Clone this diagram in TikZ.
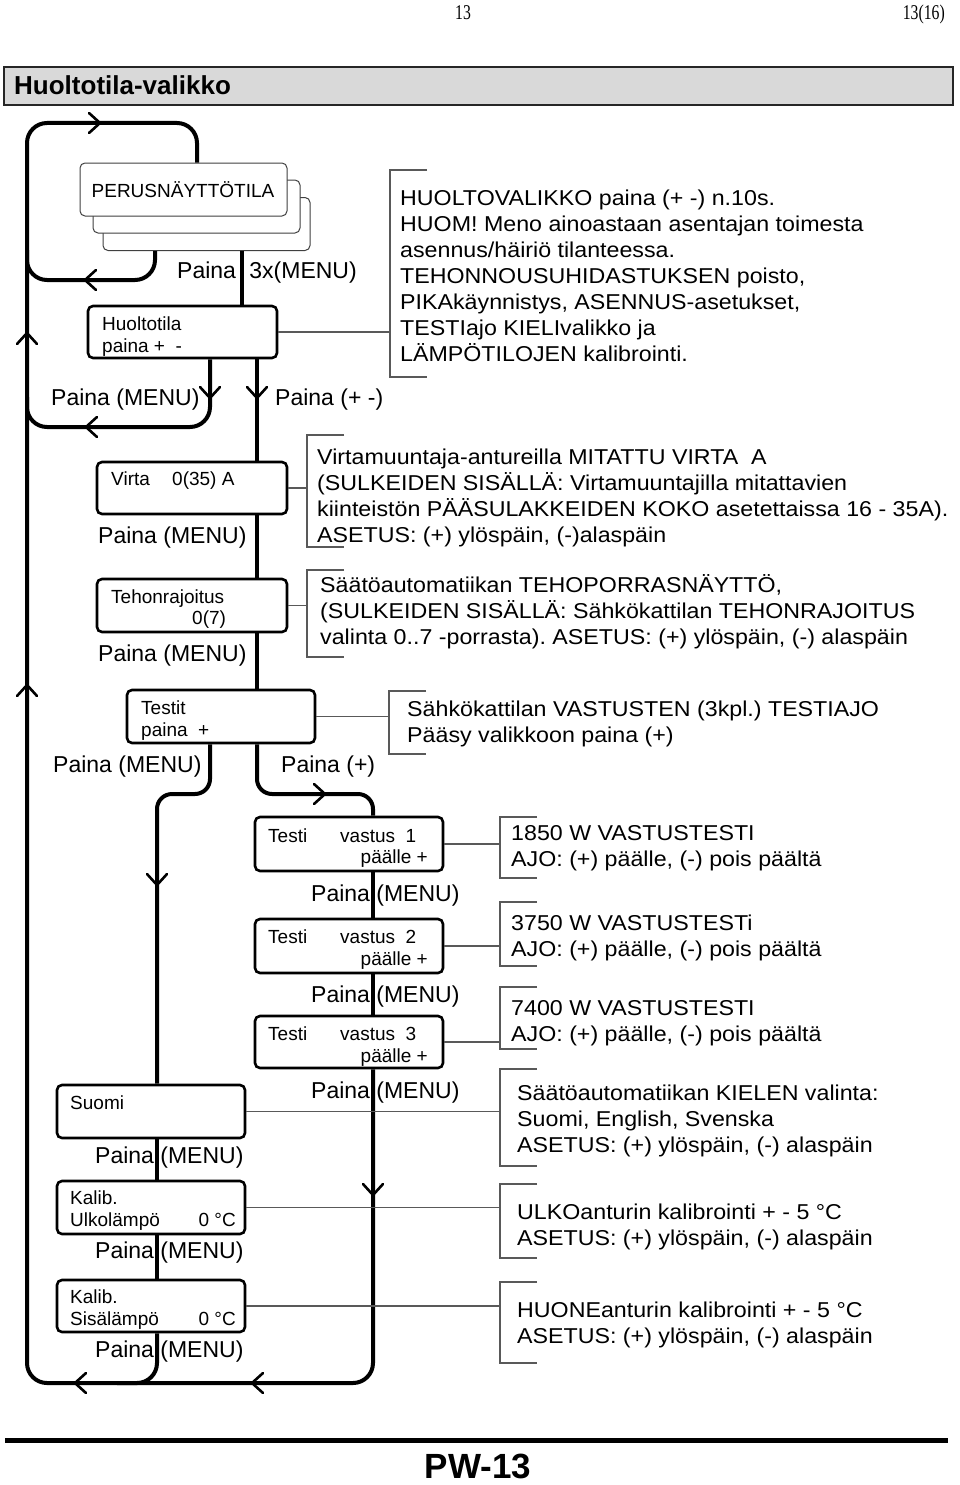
\documentclass[tikz,border=0pt]{standalone}
\usepackage{fontspec}
\usepackage{graphicx}
\setmainfont{Liberation Sans}
\newfontfamily\descfont{Liberation Sans}[FakeStretch=1.08]
\newfontfamily\hdrfont{Liberation Serif}[FakeStretch=0.75]
\frenchspacing
\usetikzlibrary{calc}
\tikzset{
  flow/.style={line width=4pt, rounded corners=20pt},
  box/.style={draw, line width=2.6pt, rounded corners=5pt, fill=white, inner sep=0pt},
  pbox/.style={draw=black!75, line width=1pt, rounded corners=5pt, fill=white, inner sep=0pt, minimum width=207, minimum height=53},
  brk/.style={draw=black!65, line width=1.2pt},
  conn/.style={draw=black!65, line width=1.2pt},
  lbl/.style={font=\fontsize{23}{27}\selectfont, inner sep=0pt, anchor=base west},
  btx/.style={font=\fontsize{19}{23}\selectfont, inner sep=0pt, anchor=base west},
  dsc/.style={font=\descfont\fontsize{21.5}{26}\selectfont, inner sep=0pt, anchor=base west},
  hdr/.style={font=\hdrfont\fontsize{21}{25}\selectfont, inner sep=0pt},
  chev/.pic={\draw[line width=2.6pt, line cap=round] (-11,-10) -- (0,0) -- (-11,10);}
}
\newcommand\mkbracket[4]{%
  \coordinate (#1t) at (#2,#3);
  \coordinate (#1b) at (#2,#4);
  \draw[brk] (#1t) ++(37,0) -- (#1t) -- (#1b) -- ++(37,0);}
\newcommand\dlines[4]{%
  \foreach \txt [count=\i from 0] in {#4}
    \node[dsc, name=#1\i] at (#2, #3+26*\i) {\txt};}
\begin{document}
\begin{tikzpicture}[x=1pt,y=-1pt]
\useasboundingbox (0,0) rectangle (960,1485);

% header
\node[hdr, anchor=base] (pg) at (463,20) {13};
\node[hdr, anchor=base east] (pgs) at (945,20) {13(16)};
\node[draw=black!85, line width=2pt, fill=black!15, minimum width=949, minimum height=38, inner sep=0pt, anchor=north west] (bar) at (3,66) {};
\node[anchor=base west, font=\bfseries\fontsize{26}{30}\selectfont, inner sep=0pt] (ttl) at (14,95) {Huoltotila-valikko};

% named coordinates
\coordinate (X27) at (27,0);
\coordinate (X155) at (155,0);
\coordinate (X157) at (157,0);
\coordinate (X197) at (197,0);
\coordinate (X210) at (210,0);
\coordinate (X242) at (242,0);
\coordinate (X257) at (257,0);
\coordinate (X373) at (373,0);
\coordinate (Ytop) at (0,123);
\coordinate (Yl1) at (0,280);
\coordinate (Yl2) at (0,427);
\coordinate (Ybr) at (0,794);
\coordinate (Ybot) at (0,1383);

% boxes
\node[pbox] (p3) at (206.5,224) {};
\node[pbox] (p2) at (196.5,206.5) {};
\node[pbox] (p1) at (183.5,189.5) {};
\node[box, minimum width=189, minimum height=52] (hu) at (182.5,332) {};
\node[box, minimum width=190, minimum height=52] (vi) at (192,488) {};
\node[box, minimum width=190, minimum height=53] (te) at (192,605.5) {};
\node[box, minimum width=188, minimum height=53] (ts) at (221,716.5) {};
\node[box, minimum width=188, minimum height=54] (t1) at (349,844) {};
\node[box, minimum width=188, minimum height=54] (t2) at (349,946) {};
\node[box, minimum width=188, minimum height=52] (t3) at (349,1042) {};
\node[box, minimum width=188, minimum height=53] (su) at (151,1111.5) {};
\node[box, minimum width=188, minimum height=53] (ul) at (151,1207.5) {};
\node[box, minimum width=188, minimum height=52] (si) at (151,1306) {};

% flow lines
\draw[flow] (p1.north -| X197) -- (X197 |- Ytop) -- (X27 |- Ytop) -- (X27 |- Ybot) -- (X373 |- Ybot) -- (t3.south -| X373);
\draw[flow] (p3.south -| X155) -- (X155 |- Yl1) -- (X27 |- Yl1) -- ++(0,-30);
\draw[flow] (hu.south -| X210) -- (X210 |- Yl2) -- (X27 |- Yl2) -- ++(0,-30);
\draw[flow] (si.south -| X157) -- (X157 |- Ybot) -- ++(-40,0);
\draw[flow, rounded corners=15pt] (ts.south -| X210) -- (X210 |- Ybr) -- (X157 |- Ybr) -- (su.north -| X157);
\draw[flow, rounded corners=15pt] (ts.south -| X257) -- (X257 |- Ybr) -- (X373 |- Ybr) -- (t1.north -| X373);
\draw[flow] (p3.south -| X242) -- (hu.north -| X242);
\draw[flow] (hu.south -| X257) -- (vi.north -| X257);
\draw[flow] (vi.south -| X257) -- (te.north -| X257);
\draw[flow] (te.south -| X257) -- (ts.north -| X257);
\draw[flow] (t1.south -| X373) -- (t2.north -| X373);
\draw[flow] (t2.south -| X373) -- (t3.north -| X373);
\draw[flow] (su.south -| X157) -- (ul.north -| X157);
\draw[flow] (ul.south -| X157) -- (si.north -| X157);

% chevrons
\path (100,123) pic {chev};
\path (85,280) pic[rotate=180] {chev};
\path (27,333) pic[rotate=90] {chev};
\path (210,398) pic[rotate=-90] {chev};
\path (257,398) pic[rotate=-90] {chev};
\path (86,427) pic[rotate=180] {chev};
\path (27,685) pic[rotate=90] {chev};
\path (325,794) pic {chev};
\path (157,885) pic[rotate=-90] {chev};
\path (373,1195) pic[rotate=-90] {chev};
\path (75,1383) pic[rotate=180] {chev};
\path (252,1383) pic[rotate=180] {chev};

% box texts
\node[btx, anchor=base] (ptx) at (183,197) {PERUSNÄYTTÖTILA};
\node[btx] (hux1) at (102,330) {Huoltotila};
\node[btx] (hux2) at (102,352) {paina +~~-};
\node[btx] (vix1) at (111,485) {Virta};
\node[btx] (vix2) at (172,485) {0(35) A};
\node[btx] (tex1) at (111,603) {Tehonrajoitus};
\node[btx] (tex2) at (192,624) {0(7)};
\node[btx] (tsx1) at (141,714) {Testit};
\node[btx] (tsx2) at (141,736) {paina~~+};
\node[btx] (t1a) at (268,842) {Testi};
\node[btx] (t1b) at (340,842) {vastus~~1};
\node[btx, anchor=base east] (t1c) at (428,863) {päälle +};
\node[btx] (t2a) at (268,943) {Testi};
\node[btx] (t2b) at (340,943) {vastus~~2};
\node[btx, anchor=base east] (t2c) at (428,965) {päälle +};
\node[btx] (t3a) at (268,1040) {Testi};
\node[btx] (t3b) at (340,1040) {vastus~~3};
\node[btx, anchor=base east] (t3c) at (428,1062) {päälle +};
\node[btx] (sux) at (70,1109) {Suomi};
\node[btx] (ulx1) at (70,1204) {Kalib.};
\node[btx] (ulx2) at (70,1226) {Ulkolämpö};
\node[btx, anchor=base east] (ulx3) at (236,1226) {0 °C};
\node[btx] (six1) at (70,1303) {Kalib.};
\node[btx] (six2) at (70,1325) {Sisälämpö};
\node[btx, anchor=base east] (six3) at (236,1325) {0 °C};

% flow labels
\node[lbl] (l3x) at (177,278) {Paina\hspace{7pt} 3x(MENU)};
\node[lbl] (lm1) at (51,405) {Paina (MENU)};
\node[lbl] (lpm) at (275,405) {Paina (+ -)};
\node[lbl] (lm2) at (98,543) {Paina (MENU)};
\node[lbl] (lm3) at (98,661) {Paina (MENU)};
\node[lbl] (lm4) at (53,772) {Paina (MENU)};
\node[lbl] (lpp) at (281,772) {Paina (+)};
\node[lbl] (lm5) at (311,901) {Paina (MENU)};
\node[lbl] (lm6) at (311,1002) {Paina (MENU)};
\node[lbl] (lm7) at (311,1098) {Paina (MENU)};
\node[lbl] (lm8) at (95,1163) {Paina (MENU)};
\node[lbl] (lm9) at (95,1258) {Paina (MENU)};
\node[lbl] (lm10) at (95,1357) {Paina (MENU)};

% brackets and connectors
\mkbracket{ba}{390}{170}{377}
\mkbracket{bb}{307}{435}{547}
\mkbracket{bc}{307}{570}{657}
\mkbracket{bd}{389}{691}{754}
\mkbracket{be}{500}{817}{878}
\mkbracket{bf}{500}{902}{966}
\mkbracket{bg}{500}{987}{1049}
\mkbracket{bh}{500}{1069}{1166}
\mkbracket{bi}{500}{1184}{1258}
\mkbracket{bj}{500}{1282}{1363}
\draw[conn] (hu.east) -- (hu.east -| bat);
\draw[conn] (vi.east) -- (vi.east -| bbt);
\draw[conn] (te.east) -- (te.east -| bct);
\draw[conn] (ts.east) -- (ts.east -| bdt);
\draw[conn] (t1.east) -- (t1.east -| bet);
\draw[conn] (t2.east) -- (t2.east -| bft);
\draw[conn] (t3.east) -- (t3.east -| bgt);
\draw[conn] (su.east) -- (su.east -| bht);
\draw[conn] (ul.east) -- (ul.east -| bit);
\draw[conn] (si.east) -- (si.east -| bjt);

% descriptions
\dlines{da}{400}{205.5}{{HUOLTOVALIKKO paina (+ -) n.10s.},{HUOM! Meno ainoastaan asentajan toimesta},{asennus/häiriö tilanteessa.},{TEHONNOUSUHIDASTUKSEN poisto,},{PIKAkäynnistys, ASENNUS-asetukset,},{TESTIajo KIELIvalikko ja},{LÄMPÖTILOJEN kalibrointi.}}
\dlines{db}{317}{464}{{Virtamuuntaja-antureilla MITATTU VIRTA~~A},{(SULKEIDEN SISÄLLÄ: Virtamuuntajilla mitattavien},{kiinteistön PÄÄSULAKKEIDEN KOKO asetettaissa 16 - 35A).},{ASETUS: (+) ylöspäin, (-)alaspäin}}
\dlines{dc}{320}{592}{{Säätöautomatiikan TEHOPORRASNÄYTTÖ,},{(SULKEIDEN SISÄLLÄ: Sähkökattilan TEHONRAJOITUS},{valinta 0..7 -porrasta). ASETUS: (+) ylöspäin, (-) alaspäin}}
\dlines{dd}{407}{716}{{Sähkökattilan VASTUSTEN (3kpl.) TESTIAJO},{Pääsy valikkoon paina (+)}}
\dlines{de}{511}{840}{{1850 W VASTUSTESTI},{AJO: (+) päälle, (-) pois päältä}}
\dlines{df}{511}{930}{{3750 W VASTUSTESTi},{AJO: (+) päälle, (-) pois päältä}}
\dlines{dg}{511}{1015}{{7400 W VASTUSTESTI},{AJO: (+) päälle, (-) pois päältä}}
\dlines{dh}{517}{1100}{{Säätöautomatiikan KIELEN valinta:},{Suomi, English, Svenska},{ASETUS: (+) ylöspäin, (-) alaspäin}}
\dlines{di}{517}{1219}{{ULKOanturin kalibrointi + - 5 °C},{ASETUS: (+) ylöspäin, (-) alaspäin}}
\dlines{dj}{517}{1317}{{HUONEanturin kalibrointi + - 5 °C},{ASETUS: (+) ylöspäin, (-) alaspäin}}

% footer
\coordinate (rl) at (5,1440);
\coordinate (rr) at (948,1440);
\draw[line width=5pt] (rl) -- (rr);
\node[anchor=base, font=\bfseries\fontsize{35}{40}\selectfont, inner sep=0pt] (pw) at (478,1478) {PW-13};
\end{tikzpicture}
\end{document}
